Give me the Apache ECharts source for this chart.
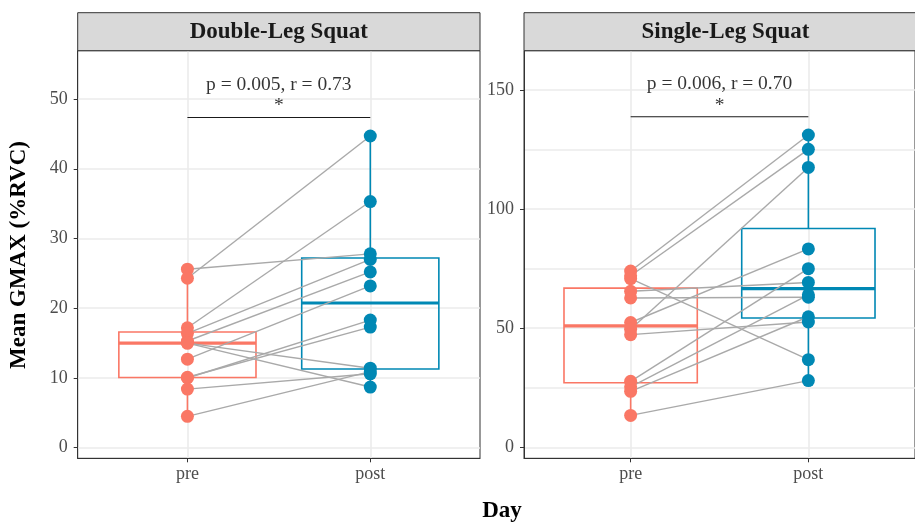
<!DOCTYPE html>
<html><head><meta charset="utf-8">
<script src="https://cdn.jsdelivr.net/npm/echarts@6/dist/echarts.min.js"></script>
<style>html,body{margin:0;padding:0;background:#fff}#c{width:915px;height:523px}</style>
</head><body><div id="c"></div>
<script>
const days = ['pre', 'post'];
const panelTitles = ['Double-Leg Squat', 'Single-Leg Squat'];
// Double-leg squat, paired by subject
const dlPre  = [25.6, 24.3, 17.2, 16.4, 15.3, 12.7, 10.0, 10.1, 15.0, 15.0, 8.4, 4.5];
const dlPost = [27.8, 44.7, 35.3, 27.0, 25.2, 23.2, 18.3, 17.3, 8.7, 11.4, 10.6, 10.9];
// Single-leg squat, paired by subject
const slPre  = [74.0, 72.0, 70.8, 65.5, 62.7, 52.4, 49.6, 47.3, 27.7, 25.4, 23.5, 13.4];
const slPost = [131.1, 125.1, 36.8, 69.2, 63.0, 83.3, 117.5, 52.6, 75.0, 64.0, 54.8, 28.0];
const dlTicks = [0, 10, 20, 30, 40, 50];
const slTicks = [0, 50, 100, 150];
const slMinorTicks = [25, 75, 125];
const statLabels = ['p = 0.005, r = 0.73', 'p = 0.006, r = 0.70'];
const sigLabels = ['*', '*'];
const bracketValues = [47.35, 138.8];
const starValues = [49.0, 143.3];
const statValues = [52.0, 152.5];

const PRE = '#FA7765', POST = '#0088B4';
const SERIF = "'Liberation Serif', 'DejaVu Serif', serif";

function quantile(arr, p) {
  const s = arr.slice().sort((a, b) => a - b);
  const h = (s.length - 1) * p, lo = Math.floor(h);
  return s[lo] + (h - lo) * ((s[lo + 1] !== undefined ? s[lo + 1] : s[lo]) - s[lo]);
}
function boxStats(arr, x) {
  const q1 = quantile(arr, 0.25), md = quantile(arr, 0.5), q3 = quantile(arr, 0.75);
  const iqr = q3 - q1;
  const inside = arr.filter(v => v >= q1 - 1.5 * iqr && v <= q3 + 1.5 * iqr);
  return [x, Math.min(...inside), q1, md, q3, Math.max(...inside)];
}
const boxColors = [PRE, POST];
function renderBox(params, api) {
  const x = api.value(0), lo = api.value(1), q1 = api.value(2), md = api.value(3), q3 = api.value(4), hi = api.value(5);
  const half = 0.375;
  const col = boxColors[params.dataIndex];
  const a = api.coord([x - half, q3]), b = api.coord([x + half, q1]);
  const m1 = api.coord([x - half, md]), m2 = api.coord([x + half, md]);
  const t = api.coord([x, hi]), tq = api.coord([x, q3]), bq = api.coord([x, q1]), bl = api.coord([x, lo]);
  return { type: 'group', children: [
    { type: 'line', shape: { x1: t[0], y1: t[1], x2: tq[0], y2: tq[1] }, style: { stroke: col, lineWidth: 1.6 } },
    { type: 'line', shape: { x1: bq[0], y1: bq[1], x2: bl[0], y2: bl[1] }, style: { stroke: col, lineWidth: 1.6 } },
    { type: 'rect', shape: { x: a[0], y: a[1], width: b[0] - a[0], height: b[1] - a[1] }, style: { fill: 'rgba(0,0,0,0)', stroke: col, lineWidth: 1.6 } },
    { type: 'line', shape: { x1: m1[0], y1: m1[1], x2: m2[0], y2: m2[1] }, style: { stroke: col, lineWidth: 3.2 } }
  ]};
}

const grids = [
  { left: 77.7, top: 50.7, width: 402.3, height: 407.6 },
  { left: 524, top: 50.7, width: 403, height: 407.6 }
];
const yRanges = [[-1.52, 56.93], [-4.62, 166.5]];

const gridLine = { show: true, lineStyle: { color: '#EBEBEB', width: 1.6 } };
const tickLabel = { fontFamily: SERIF, fontSize: 18, color: '#4D4D4D' };

const xAxes = grids.map((g, i) => ({
  type: 'value', gridIndex: i, min: -0.6, max: 1.6,
  axisLine: { show: true, onZero: false, lineStyle: { color: '#333333', width: 1 } },
  axisTick: { show: true, length: 4, customValues: [0, 1], lineStyle: { color: '#333333', width: 1 } },
  axisLabel: { ...tickLabel, margin: 7, customValues: [0, 1], formatter: v => days[Math.round(v)] },
  splitLine: gridLine
}));
const yAxes = [
  { type: 'value', gridIndex: 0, min: yRanges[0][0], max: yRanges[0][1],
    axisLine: { show: true, onZero: false, lineStyle: { color: '#333333', width: 1 } },
    axisTick: { show: true, length: 4, customValues: dlTicks, lineStyle: { color: '#333333' } },
    axisLabel: { ...tickLabel, margin: 10, customValues: dlTicks },
    splitLine: gridLine },
  { type: 'value', gridIndex: 1, min: yRanges[1][0], max: yRanges[1][1],
    axisLine: { show: true, onZero: false, lineStyle: { color: '#333333', width: 1 } },
    axisTick: { show: true, length: 4, customValues: slTicks, lineStyle: { color: '#333333' } },
    axisLabel: { ...tickLabel, margin: 10, customValues: slTicks },
    splitLine: gridLine },
  { type: 'value', gridIndex: 1, min: yRanges[1][0], max: yRanges[1][1],
    axisLine: { show: false },
    axisTick: { show: false, customValues: slMinorTicks },
    axisLabel: { show: false, customValues: slMinorTicks },
    splitLine: gridLine }
];

const panelData = [[dlPre, dlPost], [slPre, slPost]];
const series = [];
panelData.forEach(([pre, post], i) => {
  series.push({
    type: 'custom', xAxisIndex: i, yAxisIndex: i, z: 2, silent: true,
    renderItem: renderBox,
    data: [boxStats(pre, 0), boxStats(post, 1)]
  });
  series.push({
    type: 'lines', coordinateSystem: 'cartesian2d', xAxisIndex: i, yAxisIndex: i, z: 3, silent: true,
    lineStyle: { color: '#A9A9A9', width: 1.4, opacity: 1 },
    data: pre.map((v, k) => ({ coords: [[0, v], [1, post[k]]] }))
  });
  series.push({
    type: 'scatter', xAxisIndex: i, yAxisIndex: i, z: 4, symbolSize: 13, silent: true,
    itemStyle: { color: PRE, opacity: 1 },
    data: pre.map(v => [0, v])
  });
  series.push({
    type: 'scatter', xAxisIndex: i, yAxisIndex: i, z: 4, symbolSize: 13, silent: true,
    itemStyle: { color: POST, opacity: 1 },
    data: post.map(v => [1, v])
  });
  series.push({
    type: 'line', xAxisIndex: i, yAxisIndex: i, z: 5, symbol: 'none', silent: true,
    lineStyle: { color: '#1A1A1A', width: 1.1 },
    data: [[0, bracketValues[i]], [1, bracketValues[i]]]
  });
  series.push({
    type: 'scatter', xAxisIndex: i, yAxisIndex: i, z: 5, symbolSize: 0, silent: true,
    label: { show: true, position: 'inside', fontFamily: SERIF, fontSize: 19.5, color: '#000',
      formatter: p => p.data[2] },
    data: [[0.5, statValues[i], statLabels[i]], [0.5, starValues[i], sigLabels[i]]]
  });
});

const graphics = [];
grids.forEach((g, i) => {
  graphics.push({ type: 'rect', z: 10, shape: { x: g.left, y: 12.7, width: g.width, height: 38 },
    style: { fill: '#D9D9D9', stroke: '#333333', lineWidth: 1 } });
  graphics.push({ type: 'text', z: 11, x: g.left + g.width / 2, y: 32,
    style: { text: panelTitles[i], textAlign: 'center', textVerticalAlign: 'middle',
      font: "bold 23px " + SERIF, fill: '#1A1A1A' } });
});
graphics.push({ type: 'text', z: 11, x: 19, y: 255, rotation: Math.PI / 2,
  style: { text: 'Mean GMAX (%RVC)', textAlign: 'center', textVerticalAlign: 'middle', font: "bold 23px " + SERIF, fill: '#000' } });
graphics.push({ type: 'text', z: 11, x: 502, y: 511,
  style: { text: 'Day', textAlign: 'center', textVerticalAlign: 'middle', font: "bold 23px " + SERIF, fill: '#000' } });

const chart = echarts.init(document.getElementById('c'), null, { renderer: 'canvas' });
chart.setOption({
  animation: false,
  backgroundColor: '#fff',
  grid: grids.map(g => ({ ...g, show: true, borderColor: '#333333', borderWidth: 1, backgroundColor: '#fff' })),
  xAxis: xAxes,
  yAxis: yAxes,
  series: series,
  graphic: graphics
});
</script></body></html>
